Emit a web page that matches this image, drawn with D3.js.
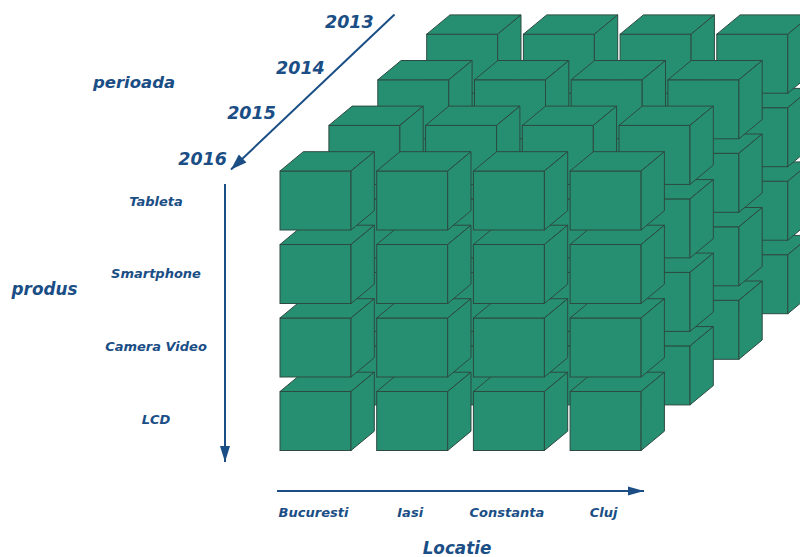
<!DOCTYPE html>
<html>
<head>
<meta charset="utf-8">
<script src="https://cdn.jsdelivr.net/npm/d3@7"></script>
<style>
  html, body { margin: 0; padding: 0; background: #ffffff; }
  svg { display: block; }
  text { font-family: "DejaVu Sans", sans-serif; font-style: oblique; font-weight: bold; fill: #1a4e85; }
</style>
</head>
<body>
<script>
// ---- data ----
const locations = ["Bucuresti", "Iasi", "Constanta", "Cluj"];
const products = ["Tableta", "Smartphone", "Camera Video", "LCD"];
const years = ["2013", "2014", "2015", "2016"];
const axisTitles = { location: "Locatie", product: "produs", period: "perioada" };

// ---- layout ----
const W = 800, H = 557;
const blue = "#1a4e85";
const cubeFill = "#268f72";
const cubeStroke = "#2c4a40";
const depth = { dx: 23.3, dy: -19.3 };       // cube depth projection
const layerStep = { dx: 48.9, dy: -45.6 };   // offset between year layers

const svg = d3.select("body").append("svg").attr("width", W).attr("height", H);

const x = d3.scaleBand().domain(locations).range([280, 280 + 3 * 96.7 + 71]).paddingInner(0.2658).paddingOuter(0);
const y = d3.scaleBand().domain(products).range([171, 171 + 3 * 73.5 + 59]).paddingInner(0.1973).paddingOuter(0);
const z = d3.scalePoint().domain(years).range([3, 0]); // layers back (2013) to front (2016)
const yLabel = d3.scalePoint().domain(products).range([201, 419]);

// cells: full cross product, draw back layer first, bottom rows first
const cells = [];
years.forEach(yr => {
  products.slice().reverse().forEach(p => {
    locations.forEach(l => cells.push({ year: yr, product: p, location: l }));
  });
});

const bw = x.bandwidth(), bh = y.bandwidth();
const g = svg.append("g");
cells.forEach(c => {
  const k = z(c.year);
  const x0 = x(c.location) + k * layerStep.dx;
  const y0 = y(c.product) + k * layerStep.dy;
  const cg = g.append("g");
  cg.append("rect").attr("x", x0).attr("y", y0).attr("width", bw).attr("height", bh)
    .attr("fill", cubeFill).attr("stroke", cubeStroke).attr("stroke-width", 1);
  cg.append("path").attr("d", d3.line()([
      [x0, y0], [x0 + depth.dx, y0 + depth.dy], [x0 + bw + depth.dx, y0 + depth.dy], [x0 + bw, y0]
    ]) + "Z")
    .attr("fill", cubeFill).attr("stroke", cubeStroke).attr("stroke-width", 1).attr("stroke-linejoin", "round");
  cg.append("path").attr("d", d3.line()([
      [x0 + bw, y0], [x0 + bw + depth.dx, y0 + depth.dy], [x0 + bw + depth.dx, y0 + bh + depth.dy], [x0 + bw, y0 + bh]
    ]) + "Z")
    .attr("fill", cubeFill).attr("stroke", cubeStroke).attr("stroke-width", 1).attr("stroke-linejoin", "round");
});

// ---- arrows ----
function arrow(x1, y1, x2, y2, len, half) {
  svg.append("line").attr("x1", x1).attr("y1", y1).attr("x2", x2).attr("y2", y2)
    .attr("stroke", blue).attr("stroke-width", 2);
  const a = Math.atan2(y2 - y1, x2 - x1);
  const bx = x2 - len * Math.cos(a), by = y2 - len * Math.sin(a);
  const px = -Math.sin(a) * half, py = Math.cos(a) * half;
  svg.append("path").attr("d", d3.line()([[x2, y2], [bx + px, by + py], [bx - px, by - py]]) + "Z")
    .attr("fill", blue);
}
arrow(394.5, 14.5, 231, 169.5, 16, 5.5);
arrow(225, 184, 225, 462, 16, 5);
arrow(277, 491, 644, 491, 16, 4.5);

// ---- labels ----
years.forEach(yr => {
  const k = z(yr);
  svg.append("text")
    .attr("x", 280 + k * layerStep.dx - 53)
    .attr("y", 171 + k * layerStep.dy - 12)
    .attr("text-anchor", "end").attr("dominant-baseline", "central")
    .attr("font-size", 17.5).text(yr);
});
products.forEach(p => {
  svg.append("text")
    .attr("x", 156).attr("y", yLabel(p))
    .attr("text-anchor", "middle").attr("dominant-baseline", "central")
    .attr("font-size", 13).text(p);
});
locations.forEach(l => {
  svg.append("text")
    .attr("x", x(l) + bw / 2 - 2).attr("y", 512)
    .attr("text-anchor", "middle").attr("dominant-baseline", "central")
    .attr("font-size", 13).text(l);
});
svg.append("text").attr("x", 134).attr("y", 82).attr("text-anchor", "middle")
  .attr("dominant-baseline", "central").attr("font-size", 16.5).text(axisTitles.period);
svg.append("text").attr("x", 44.5).attr("y", 289).attr("text-anchor", "middle")
  .attr("dominant-baseline", "central").attr("font-size", 16.8).text(axisTitles.product);
svg.append("text").attr("x", 457).attr("y", 547.5).attr("text-anchor", "middle")
  .attr("dominant-baseline", "central").attr("font-size", 16.8).text(axisTitles.location);
</script>
</body>
</html>
